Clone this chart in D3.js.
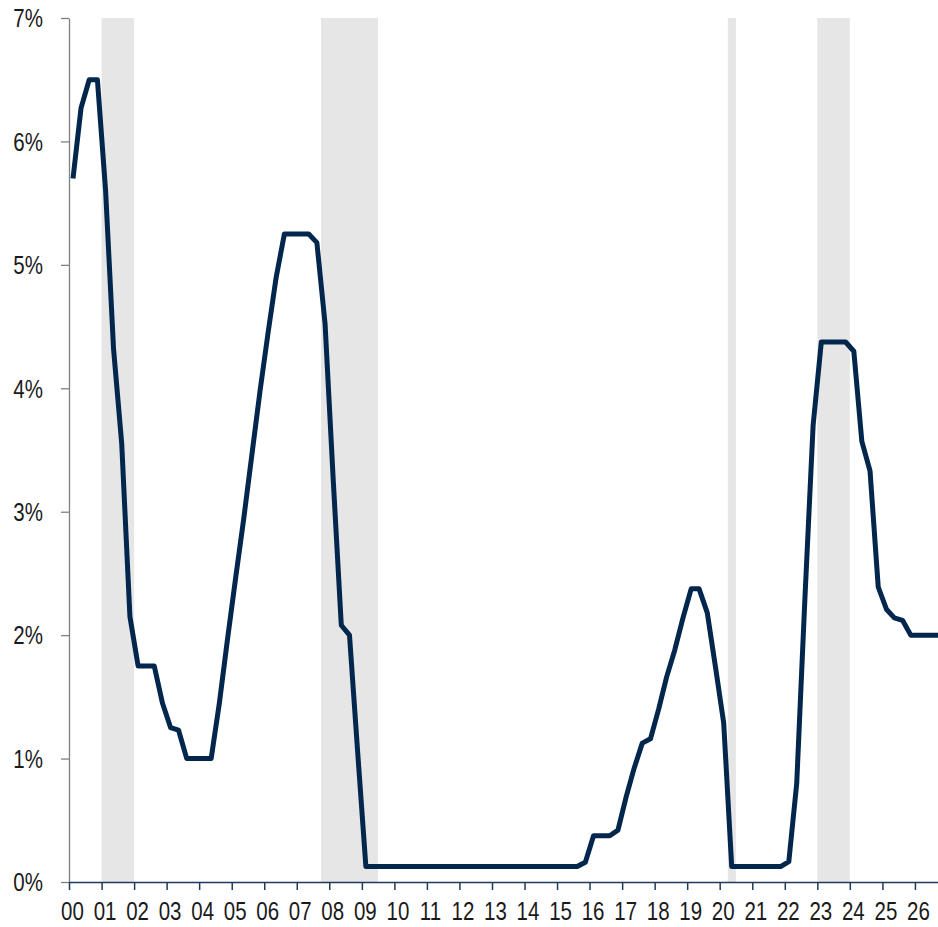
<!DOCTYPE html>
<html>
<head>
<meta charset="utf-8">
<script src="https://cdn.jsdelivr.net/npm/d3@7"></script>
<style>
  html, body { margin: 0; padding: 0; background: #fff; }
  svg { display: block; }
  .lbl { font-family: "Liberation Sans Narrow", "Arial Narrow", "Liberation Sans", Arial, sans-serif; font-size: 25px; fill: #1a1a1a; }
</style>
</head>
<body>
<svg id="chart" width="938" height="927"></svg>
<script>
// Policy rate, quarterly, % (first value is 2000 Q1)
const firstYear = 2000;
const rate = [
  5.70, 6.27, 6.50, 6.50,      // 2000
  5.60, 4.32, 3.55, 2.15,      // 2001
  1.75, 1.75, 1.75, 1.45,      // 2002
  1.25, 1.23, 1.00, 1.00,      // 2003
  1.00, 1.00, 1.45, 1.97,      // 2004
  2.47, 2.94, 3.46, 3.98,      // 2005
  4.46, 4.90, 5.25, 5.25,      // 2006
  5.25, 5.25, 5.18, 4.52,      // 2007
  3.25, 2.08, 2.00, 1.05,      // 2008
  0.125, 0.125, 0.125, 0.125,  // 2009
  0.125, 0.125, 0.125, 0.125,  // 2010
  0.125, 0.125, 0.125, 0.125,  // 2011
  0.125, 0.125, 0.125, 0.125,  // 2012
  0.125, 0.125, 0.125, 0.125,  // 2013
  0.125, 0.125, 0.125, 0.125,  // 2014
  0.125, 0.125, 0.125, 0.16,   // 2015
  0.375, 0.375, 0.375, 0.42,   // 2016
  0.69, 0.92, 1.125, 1.16,     // 2017
  1.40, 1.66, 1.88, 2.14,      // 2018
  2.375, 2.375, 2.18, 1.74,    // 2019
  1.29, 0.125, 0.125, 0.125,   // 2020
  0.125, 0.125, 0.125, 0.125,  // 2021
  0.165, 0.80, 2.30, 3.70,     // 2022
  4.375, 4.375, 4.375, 4.375,  // 2023
  4.30, 3.57, 3.33, 2.39,      // 2024
  2.21, 2.14, 2.12, 2.00,      // 2025
  2.00, 2.00, 2.00, 2.00       // 2026
];

// Shaded periods
const bandStart = ["2001-01-01", "2007-10-01", "2020-04-01", "2023-01-01"];
const bandEnd   = ["2002-01-01", "2009-07-01", "2020-07-01", "2024-01-01"];

// Axis ticks
const yTicks = [0, 1, 2, 3, 4, 5, 6, 7];
const yearTicks = d3.range(2000, 2027);

const parse = d3.utcParse("%Y-%m-%d");
// each quarter is plotted at its middle (15th of the middle month)
const points = rate.map((v, i) => ({
  date: new Date(Date.UTC(firstYear + Math.floor(i / 4), (i % 4) * 3 + 1, 15)),
  value: v
}));

const svg = d3.select("#chart");
const x = d3.scaleUtc()
  .domain([new Date(Date.UTC(2000, 0, 1)), new Date(Date.UTC(2026, 8, 17))])
  .range([69, 938]);
const y = d3.scaleLinear().domain([0, 7]).range([882, 18]);

// condensed look for the tick labels
function narrow(sel) {
  sel.each(function () {
    const t = d3.select(this);
    const tx = +t.attr("x") || 0;
    t.attr("x", 0).attr("transform", `translate(${tx},0) scale(0.82,1)`);
  });
}

// shaded bands
svg.append("g").selectAll("rect")
  .data(bandStart.map((s, i) => ({ s: parse(s), e: parse(bandEnd[i]) })))
  .join("rect")
  .attr("x", d => x(d.s))
  .attr("width", d => x(d.e) - x(d.s))
  .attr("y", y(7))
  .attr("height", y(0) - y(7))
  .attr("fill", "#e6e6e6");

// y axis
const yAxis = svg.append("g")
  .attr("transform", `translate(${x.range()[0]},0)`)
  .call(d3.axisLeft(y).tickValues(yTicks).tickFormat(d => d + "%")
    .tickSize(8).tickSizeOuter(0).tickPadding(18));
yAxis.select(".domain").attr("stroke", "#808080").attr("stroke-width", 1.3);
yAxis.selectAll(".tick line").attr("stroke", "#808080").attr("stroke-width", 1.3);
yAxis.selectAll("text").attr("class", "lbl").attr("dy", "0.35em").call(narrow);

// x axis
const xAxis = svg.append("g")
  .attr("transform", `translate(0,${y(0)})`)
  .call(d3.axisBottom(x)
    .tickValues(yearTicks.map(yr => new Date(Date.UTC(yr, 0, 1))))
    .tickFormat(d => String(d.getUTCFullYear() % 100).padStart(2, "0"))
    .tickSize(8).tickSizeOuter(0).tickPadding(12));
xAxis.select(".domain").attr("stroke", "#1f3a5f").attr("stroke-width", 1.5);
xAxis.selectAll(".tick line").attr("stroke", "#1f3a5f").attr("stroke-width", 1.5);
xAxis.selectAll("text").attr("class", "lbl").attr("x", 3).attr("dy", "0.71em").call(narrow);

// rate line, clipped to the plot area
svg.append("clipPath").attr("id", "plot-clip")
  .append("rect").attr("x", 69).attr("y", 0).attr("width", 938 - 69).attr("height", 927);

svg.append("path")
  .datum(points)
  .attr("clip-path", "url(#plot-clip)")
  .attr("fill", "none")
  .attr("stroke", "#03264d")
  .attr("stroke-width", 5)
  .attr("stroke-linejoin", "round")
  .attr("d", d3.line().x(d => x(d.date)).y(d => y(d.value)));
</script>
</body>
</html>
